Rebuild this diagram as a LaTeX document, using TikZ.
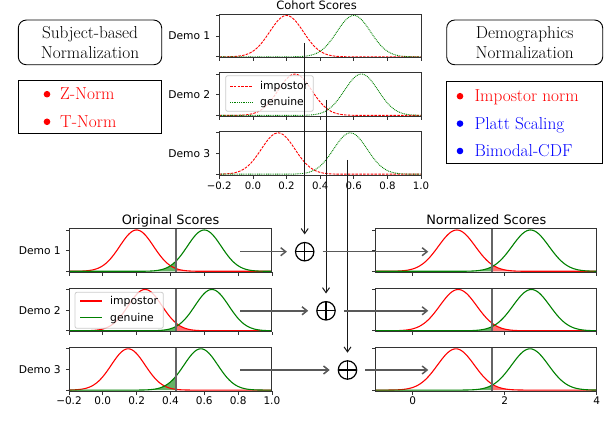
\documentclass[tikz,border=0pt]{standalone}
\usepackage{fontspec}
\newfontfamily\djv{DejaVu Sans}
\usetikzlibrary{arrows.meta}
\definecolor{mred}{HTML}{FF0000}
\definecolor{mgreen}{HTML}{008000}
\definecolor{mblue}{HTML}{0000FF}
\newcommand\gcurve[5]{\draw[#1] plot[domain=#2:#3, samples=140] ({\x-(#2)}, {exp(max(-9,-(\x-(#4))*(\x-(#4))/(2*(#5)*(#5))))});}
\newcommand\gfill[6]{\fill[#1] ({(#3)-(#2)},0) -- plot[domain=#3:#4, samples=80] ({\x-(#2)}, {exp(max(-9,-(\x-(#5))*(\x-(#5))/(2*(#6)*(#6))))}) -- ({(#4)-(#2)},0) -- cycle;}
\newcommand\lmbig{\fontsize{17.3}{20.5}\selectfont}
\newcommand\djsz[1]{\djv\fontsize{#1}{#1}\selectfont}
\tikzset{
 spine/.style={draw=black!80, line width=0.9pt},
 tk/.style={draw=black!80, line width=0.8pt},
 impd/.style={mred, line width=0.9pt, dash pattern=on 2.6pt off 1.2pt},
 gend/.style={mgreen, line width=0.9pt, dash pattern=on 0.9pt off 0.9pt},
 impc/.style={mred, line width=1.1pt},
 genc/.style={mgreen, line width=1.1pt},
 gfl/.style={fill=mgreen, fill opacity=0.6},
 rfl/.style={fill=mred, fill opacity=0.55},
 thr/.style={draw=black!60, line width=2pt},
 demolab/.style={anchor=east, inner sep=0pt, font=\djsz{10.7}},
 ticklab/.style={anchor=base, inner sep=0pt, font=\djsz{10.5}},
 ttl/.style={anchor=base, inner sep=0pt},
 legbox/.style={draw=black!20, line width=0.8pt, rounded corners=2pt, fill=white, fill opacity=0.8},
 legtxt/.style={anchor=base west, inner sep=0pt, font=\djsz{10.8}},
 hbox/.style={draw, line width=0.9pt, rounded corners=8pt, align=center, inner sep=0pt, font=\lmbig},
 lbox/.style={draw, line width=0.9pt, inner sep=0pt},
 bul/.style={circle, fill, inner sep=0pt, minimum size=6.6pt},
 itm/.style={anchor=base west, inner sep=0pt, font=\lmbig},
 oplus/.style={circle, draw, line width=1.2pt, minimum size=18.4pt, inner sep=0pt,
   path picture={\draw[line width=1.2pt] (path picture bounding box.north) -- (path picture bounding box.south) (path picture bounding box.west) -- (path picture bounding box.east);}},
 harr/.style={draw=black!65, line width=1.5pt, -{Straight Barb[length=5pt,width=8pt]}, shorten >=8pt},
 harrb/.style={draw=black!65, line width=1.5pt, -{Straight Barb[length=5pt,width=8pt]}, shorten <=8pt},
 varr/.style={draw=black!90, line width=1pt, -{Straight Barb[length=5pt,width=7pt]}, shorten >=7.5pt},
}
\begin{document}
\begin{tikzpicture}[x=1pt,y=-1pt]
\useasboundingbox (0,0) rectangle (604,438);

% ---------- left heading and list
\node[hbox, minimum width=143.4pt, minimum height=44.7pt] (subj) at (90,42.4) {Subject-based\\Normalization};
\node[lbox, minimum width=143.4pt, minimum height=53pt] (subjlist) at (90,106.8) {};
\node[bul, mred] (b1) at (47,94.2) {};
\node[itm, mred] (zn) at (60,100) {Z-Norm};
\node[bul, mred] (b2) at (47,121.8) {};
\node[itm, mred] (tn) at (60,127.6) {T-Norm};

% ---------- right heading and list
\node[hbox, minimum width=156pt, minimum height=44.7pt] (demog) at (524.7,42.4) {Demographics\\Normalization};
\node[lbox, minimum width=156pt, minimum height=81.6pt] (demolist) at (524.7,122.5) {};
\node[bul, mred] (b3) at (460,96.2) {};
\node[itm, mred] (impn) at (474.3,102) {Impostor norm};
\node[bul, mblue] (b4) at (460,123.6) {};
\node[itm, mblue] (platt) at (474.3,129.4) {Platt Scaling};
\node[bul, mblue] (b5) at (460,151) {};
\node[itm, mblue] (bimod) at (474.3,156.8) {Bimodal-CDF};

% ---------- cohort scores
\node[ttl, font=\djsz{11.5}] (cohort) at (316.5,10) {Cohort Scores};
\foreach \T/\mi/\mg [count=\r] in {14/0.2/0.6, 72.6/0.25/0.645, 131.4/0.15/0.58}{
  \pgfmathsetmacro\B{\T+43.8}
  \begin{scope}[shift={(219.3,\B-1)}, x=168.08pt, y=41.3pt]
    \gcurve{impd}{-0.2}{1.0}{\mi}{0.1}
    \gcurve{gend}{-0.2}{1.0}{\mg}{0.1}
  \end{scope}
  \draw[spine] (219.3,\T) rectangle (421,\B);
  \foreach \px in {219.3,252.9,286.5,320.2,353.8,387.4,421.0} \draw[tk] (\px,\B) -- ++(0,3.5);
  \draw[tk] (219.3,\T+1.5) -- ++(-3.5,0) (219.3,{(\T+\B)/2+0.25}) -- ++(-3.5,0) (219.3,\B-1) -- ++(-3.5,0);
  \node[demolab] (cd\r) at (210.5,{(\T+\B)/2+0.25}) {Demo \r};
}
\foreach \px/\lab [count=\k] in {219.3/−0.2,252.9/0.0,286.5/0.2,320.2/0.4,353.8/0.6,387.4/0.8,421.0/1.0}
  \node[ticklab, font=\djsz{10.2}] (ctl\k) at (\px,190) {\lab};
\draw[legbox] (225.7,75.7) rectangle (313.3,111.3);
\draw[impd] (230,86) -- (252.7,86);
\draw[gend] (230,102.3) -- (252.7,102.3);
\node[legtxt] (cli) at (260,89.7) {impostor};
\node[legtxt] (clg) at (260,106) {genuine};

% ---------- original scores
\node[ttl, font=\djsz{12.9}] (orig) at (170.5,225) {Original Scores};
\foreach \T/\mi/\mg [count=\r] in {228.5/0.2/0.6, 288/0.25/0.645, 347.3/0.15/0.58}{
  \pgfmathsetmacro\B{\T+43.8}
  \begin{scope}[shift={(69,\B-1)}, x=169.08pt, y=41.3pt]
    \gfill{gfl}{-0.2}{-0.2}{0.43}{\mg}{0.1}
    \gfill{rfl}{-0.2}{0.43}{1.0}{\mi}{0.1}
    \gcurve{impc}{-0.2}{1.0}{\mi}{0.1}
    \gcurve{genc}{-0.2}{1.0}{\mg}{0.1}
  \end{scope}
  \draw[thr] (175.5,\T) -- (175.5,\B);
  \draw[spine] (69,\T) rectangle (271.9,\B);
  \foreach \px in {69,102.8,136.6,170.5,204.3,238.1,271.9} \draw[tk] (\px,\B) -- ++(0,3.5);
  \draw[tk] (69,\T+1.5) -- ++(-3.5,0) (69,{(\T+\B)/2+0.25}) -- ++(-3.5,0) (69,\B-1) -- ++(-3.5,0);
  \node[demolab] (od\r) at (61,{(\T+\B)/2+0.25}) {Demo \r};
}
\foreach \px/\lab [count=\k] in {69/−0.2,102.8/0.0,136.6/0.2,170.5/0.4,204.3/0.6,238.1/0.8,271.9/1.0}
  \node[ticklab] (otl\k) at (\px,404.3) {\lab};
\draw[legbox] (75,292.3) rectangle (163.3,328.3);
\draw[impc] (80,301) -- (101.7,301);
\draw[genc] (80,317.3) -- (101.7,317.3);
\node[legtxt] (oli) at (110,304.7) {impostor};
\node[legtxt] (olg) at (110,321) {genuine};

% ---------- normalized scores
\node[ttl, font=\djsz{12.9}] (normt) at (486.3,225) {Normalized Scores};
\foreach \T/\mi/\mg [count=\r] in {228.5/0.96/2.56, 288/0.99/2.58, 347.3/0.94/2.55}{
  \pgfmathsetmacro\B{\T+43.8}
  \begin{scope}[shift={(375.8,\B-1)}, x=46.04pt, y=41.3pt]
    \gfill{gfl}{-0.8}{-0.8}{1.73}{\mg}{0.4}
    \gfill{rfl}{-0.8}{1.73}{4.0}{\mi}{0.4}
    \gcurve{impc}{-0.8}{4.0}{\mi}{0.4}
    \gcurve{genc}{-0.8}{4.0}{\mg}{0.4}
  \end{scope}
  \draw[thr] (492.3,\T) -- (492.3,\B);
  \draw[spine] (375.8,\T) rectangle (596.8,\B);
  \foreach \px in {412.6,504.7,596.8} \draw[tk] (\px,\B) -- ++(0,3.5);
  \draw[tk] (375.8,\T+1.5) -- ++(-3.5,0) (375.8,{(\T+\B)/2+0.25}) -- ++(-3.5,0) (375.8,\B-1) -- ++(-3.5,0);
}
\foreach \px/\lab [count=\k] in {412.6/0,504.7/2,596.8/4}
  \node[ticklab] (ntl\k) at (\px,404.3) {\lab};

% ---------- combination and arrows
\node[oplus] (o1) at (304.7,251.7) {};
\node[oplus] (o2) at (326,310.8) {};
\node[oplus] (o3) at (347.5,370) {};
\coordinate (h1s) at (240,251.7); \coordinate (h1e) at (428.3,251.7);
\coordinate (h2s) at (240,310.8); \coordinate (h2e) at (428.3,310.8);
\coordinate (h3s) at (240,370);   \coordinate (h3e) at (428.3,370);
\coordinate (v1s) at (304.7,43);
\coordinate (v2s) at (326,100);
\coordinate (v3s) at (347.5,160);
\draw[varr] (v1s) -- (o1);
\draw[varr] (v2s) -- (o2);
\draw[varr] (v3s) -- (o3);
\draw[harr] (h1s) -- (o1);
\draw[harr] (h2s) -- (o2);
\draw[harr] (h3s) -- (o3);
\draw[harrb] (o1) -- (h1e);
\draw[harrb] (o2) -- (h2e);
\draw[harrb] (o3) -- (h3e);
\end{tikzpicture}
\end{document}
